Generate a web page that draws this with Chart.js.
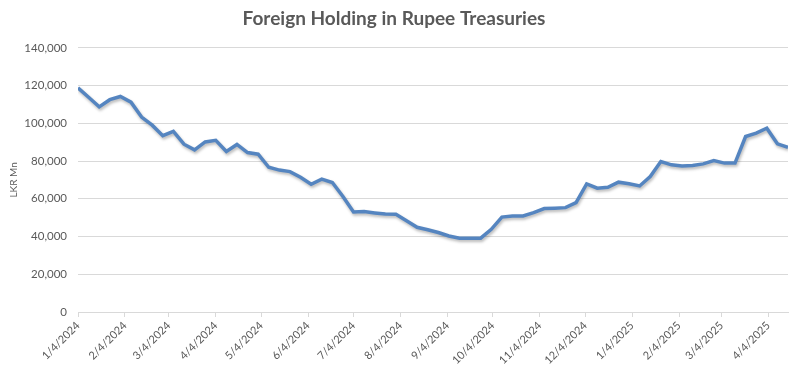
<!DOCTYPE html>
<html>
<head>
<meta charset="utf-8">
<script src="https://cdn.jsdelivr.net/npm/chart.js@4.4.1/dist/chart.umd.min.js"></script>
<style>
  html, body { margin: 0; padding: 0; background: #fff; }
  #wrap { width: 800px; height: 373px; }
</style>
</head>
<body>
<div id="wrap"><canvas id="lineChart"></canvas></div>
<script>
// weekly observation dates
var weeks = [
  '2024-01-04','2024-01-11','2024-01-18','2024-01-25',
  '2024-02-01','2024-02-08','2024-02-15','2024-02-22','2024-02-29',
  '2024-03-07','2024-03-14','2024-03-21','2024-03-28',
  '2024-04-04','2024-04-11','2024-04-18','2024-04-25',
  '2024-05-02','2024-05-09','2024-05-16','2024-05-23','2024-05-30',
  '2024-06-06','2024-06-13','2024-06-20','2024-06-27',
  '2024-07-04','2024-07-11','2024-07-18','2024-07-25',
  '2024-08-01','2024-08-08','2024-08-15','2024-08-22','2024-08-29',
  '2024-09-05','2024-09-12','2024-09-19','2024-09-26',
  '2024-10-03','2024-10-10','2024-10-17','2024-10-24','2024-10-31',
  '2024-11-07','2024-11-14','2024-11-21','2024-11-28',
  '2024-12-05','2024-12-12','2024-12-19','2024-12-26',
  '2025-01-02','2025-01-09','2025-01-16','2025-01-23','2025-01-30',
  '2025-02-06','2025-02-13','2025-02-20','2025-02-27',
  '2025-03-06','2025-03-13','2025-03-20','2025-03-27',
  '2025-04-03','2025-04-10','2025-04-17'
];

// LKR Mn
var holdings = [
  118800, 113800, 108700, 112500, 114200, 111200, 103300, 99000, 93400,
  95700, 88900, 85900, 90100, 91000, 85100, 88800, 84500, 83600,
  76700, 75200, 74400, 71400, 67700, 70400, 68600, 61200,
  53000, 53200, 52500, 51900, 51800, 48400, 44900, 43600, 42100,
  40300, 39100, 39100, 39100, 43800, 50300, 50900, 50900, 52700,
  54800, 55000, 55300, 58000, 67900, 65600, 66100, 68800,
  68000, 66800, 71800, 79700, 78000, 77400, 77600, 78500, 80200,
  78900, 78900, 93000, 94800, 97400, 89100, 87300
];

// month labels on the date axis
var monthTicks = [
  '2024-01-04','2024-02-04','2024-03-04','2024-04-04','2024-05-04','2024-06-04',
  '2024-07-04','2024-08-04','2024-09-04','2024-10-04','2024-11-04','2024-12-04',
  '2025-01-04','2025-02-04','2025-03-04','2025-04-04'
];

var yTicks = [0, 20000, 40000, 60000, 80000, 100000, 120000, 140000];

function toDay(s) {
  var p = s.split('-');
  return Date.UTC(+p[0], +p[1] - 1, +p[2]) / 86400000;
}
function dayLabel(d) {
  var dt = new Date(d * 86400000);
  return (dt.getUTCMonth() + 1) + '/' + dt.getUTCDate() + '/' + dt.getUTCFullYear();
}

var pts = [];
for (var i = 0; i < weeks.length; i++) {
  pts.push({ x: toDay(weeks[i]), y: holdings[i] });
}

var grey = '#595959';
var gridGrey = '#d9d9d9';

var shadow = {
  id: 'lineShadow',
  beforeDatasetsDraw: function (chart) {
    var c = chart.ctx;
    c.save();
    c.shadowColor = 'rgba(0,0,0,0.28)';
    c.shadowBlur = 3;
    c.shadowOffsetX = 1;
    c.shadowOffsetY = 2;
  },
  afterDatasetsDraw: function (chart) {
    chart.ctx.restore();
  }
};

var ctx = document.getElementById('lineChart').getContext('2d');
var chart = new Chart(ctx, {
  type: 'line',
  data: {
    datasets: [{
      label: 'Foreign Holding',
      data: pts,
      borderColor: '#5585c0',
      borderWidth: 3.5,
      pointRadius: 0,
      tension: 0,
      fill: false
    }]
  },
  plugins: [shadow],
  options: {
    responsive: true,
    maintainAspectRatio: false,
    animation: false,
    layout: { padding: { left: 0, right: 12, top: 0, bottom: 0 } },
    plugins: {
      legend: { display: false },
      tooltip: { enabled: false },
      title: {
        display: true,
        text: 'Foreign Holding in Rupee Treasuries',
        color: grey,
        font: { family: 'Lato', size: 19, weight: 'bold' },
        padding: { top: 7, bottom: 18 }
      }
    },
    scales: {
      x: {
        type: 'linear',
        min: toDay(weeks[0]),
        max: toDay(weeks[weeks.length - 1]),
        afterBuildTicks: function (scale) {
          scale.ticks = monthTicks.map(function (s) { return { value: toDay(s) }; });
        },
        afterFit: function (scale) { scale.height = 61; },
        grid: {
          drawOnChartArea: false,
          drawTicks: true,
          tickLength: 5,
          color: gridGrey
        },
        border: { display: true, color: gridGrey, width: 1 },
        ticks: {
          autoSkip: false,
          minRotation: 45,
          maxRotation: 45,
          padding: 2,
          color: grey,
          font: { family: 'Lato', size: 11 },
          callback: function (v) { return dayLabel(v); }
        }
      },
      y: {
        min: 0,
        max: 140000,
        afterBuildTicks: function (scale) {
          scale.ticks = yTicks.map(function (v) { return { value: v }; });
        },
        afterFit: function (scale) { scale.width = 78; },
        grid: { color: gridGrey, drawTicks: false },
        border: { display: false },
        title: {
          display: true,
          text: 'LKR Mn',
          color: grey,
          font: { family: 'Lato', size: 10 },
          padding: { top: 8, bottom: 0 }
        },
        ticks: {
          padding: 11,
          color: grey,
          font: { family: 'Lato', size: 11.5 },
          callback: function (v) { return v.toLocaleString('en-US'); }
        }
      }
    }
  }
});
</script>
</body>
</html>
